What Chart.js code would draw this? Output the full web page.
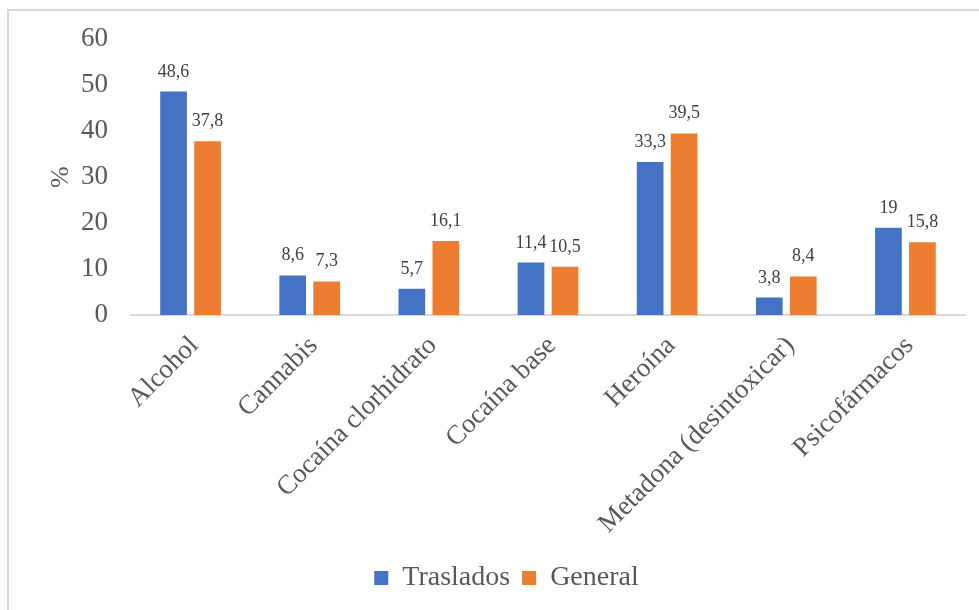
<!DOCTYPE html>
<html lang="es">
<head>
<meta charset="utf-8">
<title>Consumo por sustancia</title>
<script src="https://cdn.jsdelivr.net/npm/chart.js@4/dist/chart.umd.min.js"></script>
<style>
  html, body { margin: 0; padding: 0; background: #ffffff; }
  #wrap { position: relative; width: 979px; height: 610px; overflow: hidden; }
  #frame { position: absolute; left: 7px; top: 9px; width: 1200px; height: 1200px;
           border: 2px solid #d9d9d9; box-sizing: border-box; }
  #c { position: absolute; left: 0; top: 0; }
</style>
</head>
<body>
<div id="wrap">
  <div id="frame"></div>
  <canvas id="c" width="979" height="610"></canvas>
</div>
<script>
// Substances and percentages per group
const categories = ['Alcohol', 'Cannabis', 'Cocaína clorhidrato', 'Cocaína base', 'Heroína', 'Metadona (desintoxicar)', 'Psicofármacos'];
const traslados = [48.6, 8.6, 5.7, 11.4, 33.3, 3.8, 19];
const general = [37.8, 7.3, 16.1, 10.5, 39.5, 8.4, 15.8];
const seriesNames = ['Traslados', 'General'];
const yTicks = [0, 10, 20, 30, 40, 50, 60];

const FONT = '"Liberation Serif", "Times New Roman", serif';
const TEXT = '#595959';
const PLOT_BOTTOM = 315;
const PAD_BOTTOM = 8;
const LEGEND_SHIFT = 24;

const fmt = v => String(v).replace('.', ',');

// Value labels drawn above each bar
const valueLabels = {
  id: 'valueLabels',
  afterDatasetsDraw(chart) {
    const { ctx } = chart;
    ctx.save();
    ctx.font = '18px ' + FONT;
    ctx.fillStyle = '#404040';
    ctx.textAlign = 'center';
    ctx.textBaseline = 'alphabetic';
    chart.data.datasets.forEach((ds, i) => {
      chart.getDatasetMeta(i).data.forEach((bar, j) => {
        ctx.fillText(fmt(ds.data[j]), bar.x, bar.y - 15);
      });
    });
    ctx.restore();
  }
};

// Nudge the legend block a little to the right of the canvas centre
const legendOffset = {
  id: 'legendOffset',
  afterLayout(chart) {
    const lg = chart.legend;
    if (lg) {
      lg.left += LEGEND_SHIFT;
      lg.right += LEGEND_SHIFT;
    }
  }
};

new Chart(document.getElementById('c'), {
  type: 'bar',
  data: {
    labels: categories,
    datasets: [
      { label: seriesNames[0], data: traslados, backgroundColor: '#4472C4' },
      { label: seriesNames[1], data: general, backgroundColor: '#ED7D31' }
    ]
  },
  options: {
    responsive: false,
    animation: false,
    events: [],
    layout: { padding: { top: 38, left: 0, right: 14, bottom: PAD_BOTTOM } },
    datasets: { bar: { categoryPercentage: 0.571, barPercentage: 0.785 } },
    plugins: {
      tooltip: { enabled: false },
      legend: {
        position: 'bottom',
        labels: {
          color: TEXT,
          font: { family: FONT, size: 28 },
          boxWidth: 14,
          boxHeight: 14,
          padding: 12
        }
      }
    },
    scales: {
      x: {
        grid: { display: false, drawTicks: false },
        border: { display: true, color: '#d9d9d9', width: 2 },
        ticks: {
          color: TEXT,
          font: { family: FONT, size: 27 },
          maxRotation: 45,
          minRotation: 45,
          autoSkip: false,
          padding: 15,
          labelOffset: 4
        },
        afterFit(scale) {
          const lg = scale.chart.legend;
          const lh = lg ? lg.height : 50;
          scale.height = 610 - PLOT_BOTTOM - PAD_BOTTOM - lh;
        }
      },
      y: {
        min: 0,
        max: 60,
        grid: { display: false, drawTicks: false },
        border: { display: false },
        afterBuildTicks(scale) {
          scale.ticks = yTicks.map(v => ({ value: v }));
        },
        ticks: {
          color: TEXT,
          font: { family: FONT, size: 27 },
          padding: 23
        },
        title: {
          display: true,
          text: '%',
          color: TEXT,
          font: { family: FONT, size: 26 },
          padding: { top: 46, bottom: 0 }
        },
        afterFit(scale) {
          scale.width = 131;
        }
      }
    }
  },
  plugins: [valueLabels, legendOffset]
});
</script>
</body>
</html>
